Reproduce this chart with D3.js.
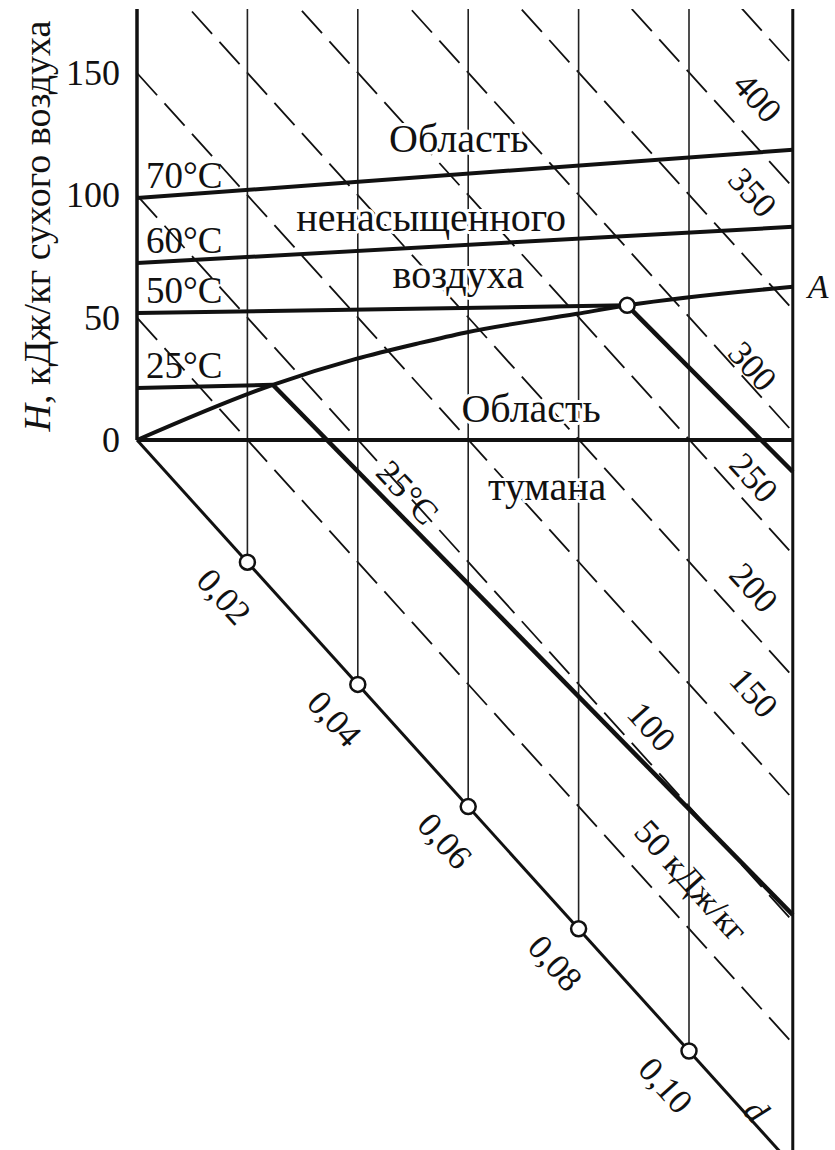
<!DOCTYPE html>
<html>
<head>
<meta charset="utf-8">
<script src="https://cdn.jsdelivr.net/npm/d3@7"></script>
<style>
  body { margin: 0; background: #fff; }
  text { font-family: "Liberation Serif", "Times New Roman", serif; fill: #111; }
  .halo { paint-order: stroke; stroke: #fff; stroke-width: 6px; stroke-linejoin: round; }
</style>
</head>
<body>
<svg id="chart" width="835" height="1150"></svg>
<script>
// --- data (d in kg/kg, H in kJ/kg) ---
const dTicks = [0.02, 0.04, 0.06, 0.08, 0.10];
const dTickLabels = ["0,02", "0,04", "0,06", "0,08", "0,10"];
const hTicks = [0, 50, 100, 150];

const dMax = 0.1188;                       // right border of the field
const enthalpyLines = [50, 100, 150, 200, 250, 300, 350, 400, 450];
const enthalpyLabels = ["50 кДж/кг", "100", "150", "200", "250", "300", "350", "400"];
const enthalpyLabelD = [0.1005, 0.0933, 0.1118, 0.1118, 0.1118, 0.1116, 0.1116, 0.1125];
const enthalpyLabelH = [71, 116, 176, 219, 264, 309, 380, 421];

// saturation curve (phi = 1)
const satD = [0, 0.0246, 0.0395, 0.0513, 0.0594, 0.0797, 0.0888, 0.1188];
const satH = [0, 84, 131.7, 167.8, 192.2, 250.6, 276.8, 359.3];

// isotherms in the unsaturated region
const isoNames = ["70°C", "60°C", "50°C", "25°C", ""];
const isoStartH = [98.9, 72.3, 51.9, 21.3, 0];
const isoEndD = [0.1188, 0.1188, 0.0888, 0.0246, 0.1188];
const isoEndH = [415.3, 383.8, 276.8, 84, 296.7];

// isotherms in the fog region
const fogStartD = [0.0246, 0.0888];
const fogStartH = [84, 276.8];
const fogEndH = [102.6, 283.7];

// region captions
const regionText = ["Область", "ненасыщенного", "воздуха", "Область", "тумана"];
const regionD = [0.0583, 0.0533, 0.0582, 0.0714, 0.0743];
const regionH = [263.3, 218.4, 207.4, 185.6, 160.9];

const svg = d3.select("#chart"),
      fieldLeft = 137, fieldRight = 793, fieldTop = 9, fieldBottom = 1150;

// oblique H-d frame: d runs down-right, H runs straight up
const x = d3.scaleLinear().domain([0, 0.1]).range([fieldLeft, fieldLeft + 552]);
const drop = d3.scaleLinear().domain([0, 0.1]).range([0, 611]);
const y = d3.scaleLinear().domain([0, 150]).range([440, 73]);
const P = (d, h) => [x(d), y(h) + drop(d)];
const angle = Math.atan2(drop(0.1) - drop(0), x(0.1) - x(0)) * 180 / Math.PI;
const line = d3.line();

svg.append("defs").append("clipPath").attr("id", "field")
  .append("rect")
  .attr("x", fieldLeft).attr("y", fieldTop)
  .attr("width", fieldRight - fieldLeft).attr("height", fieldBottom - fieldTop);

// dashed isenthalps
svg.append("g").attr("clip-path", "url(#field)")
  .selectAll("path")
  .data(enthalpyLines)
  .join("path")
  .attr("d", h => line([P(0, h), P(dMax + 0.01, h)]))
  .attr("fill", "none")
  .attr("stroke", "#111")
  .attr("stroke-width", 1.8)
  .attr("stroke-dasharray", "30,11");

// vertical lines d = const
svg.append("g")
  .selectAll("line")
  .data(dTicks)
  .join("line")
  .attr("x1", d => x(d)).attr("x2", d => x(d))
  .attr("y1", fieldTop).attr("y2", d => P(d, 0)[1])
  .attr("stroke", "#222")
  .attr("stroke-width", 1.6);

// frame: H axis, right border, d axis
svg.append("line")
  .attr("x1", fieldLeft).attr("x2", fieldLeft).attr("y1", fieldTop).attr("y2", y(0))
  .attr("stroke", "#111").attr("stroke-width", 3.5);
svg.append("line")
  .attr("x1", x(dMax)).attr("x2", x(dMax)).attr("y1", fieldTop).attr("y2", fieldBottom)
  .attr("stroke", "#111").attr("stroke-width", 3);
svg.append("path")
  .attr("d", line([P(0, 0), P(0.12, 0)]))
  .attr("stroke", "#111").attr("stroke-width", 3).attr("fill", "none");

// isotherms (unsaturated)
svg.append("g")
  .selectAll("path")
  .data(isoStartH)
  .join("path")
  .attr("d", (h, i) => line([P(0, h), P(isoEndD[i], isoEndH[i])]))
  .attr("stroke", "#111").attr("stroke-width", 4).attr("fill", "none");

// saturation curve
svg.append("path")
  .attr("d", d3.line().curve(d3.curveMonotoneX)(satD.map((d, i) => P(d, satH[i]))))
  .attr("stroke", "#111").attr("stroke-width", 4).attr("fill", "none");

// fog isotherms
svg.append("g")
  .selectAll("path")
  .data(fogStartD)
  .join("path")
  .attr("d", (d, i) => line([P(d, fogStartH[i]), P(dMax, fogEndH[i])]))
  .attr("stroke", "#111").attr("stroke-width", 4.5).attr("fill", "none");

// marker circles
svg.append("g")
  .selectAll("circle")
  .data(dTicks.map(d => P(d, 0)).concat([P(satD[6], satH[6])]))
  .join("circle")
  .attr("cx", p => p[0]).attr("cy", p => p[1])
  .attr("r", 7.5)
  .attr("fill", "#fff").attr("stroke", "#111").attr("stroke-width", 2.5);

// H axis ticks
const yAxis = svg.append("g")
  .attr("transform", `translate(${fieldLeft},0)`)
  .call(d3.axisLeft(y).tickValues(hTicks).tickSize(0).tickPadding(17));
yAxis.select(".domain").remove();
yAxis.selectAll("text").attr("font-size", 36).attr("fill", "#111");

// H axis title
const yTitle = svg.append("text")
  .attr("transform", `translate(50,226) rotate(-90)`)
  .attr("text-anchor", "middle")
  .attr("font-size", 38);
yTitle.append("tspan").attr("font-style", "italic").text("H");
yTitle.append("tspan").text(", кДж/кг сухого воздуха");

// d axis labels
svg.append("g")
  .selectAll("text")
  .data(dTicks)
  .join("text")
  .attr("transform", (d, i) => {
    const p = P(d, 0);
    return `translate(${p[0] - 23},${p[1] + 34}) rotate(${angle})`;
  })
  .attr("text-anchor", "middle")
  .attr("dy", "0.35em")
  .attr("font-size", 35)
  .text((d, i) => dTickLabels[i]);

const dEnd = P(0.111, 0);
svg.append("text")
  .attr("transform", `translate(${dEnd[0] + 7},${dEnd[1] - 8}) rotate(${angle})`)
  .attr("text-anchor", "middle")
  .attr("dy", "0.35em")
  .attr("font-size", 35)
  .attr("font-style", "italic")
  .text("d");

// isenthalp labels
svg.append("g")
  .selectAll("text")
  .data(enthalpyLabels)
  .join("text")
  .attr("transform", (t, i) => {
    const p = P(enthalpyLabelD[i], enthalpyLabelH[i]);
    return `translate(${p[0]},${p[1]}) rotate(${angle})`;
  })
  .attr("text-anchor", "middle")
  .attr("dy", "0.35em")
  .attr("font-size", 35)
  .text(t => t);

// isotherm labels
svg.append("g")
  .selectAll("text")
  .data(isoNames.filter(n => n))
  .join("text")
  .attr("x", fieldLeft + 9)
  .attr("y", (n, i) => y(isoStartH[i]) - 10)
  .attr("font-size", 37)
  .text(n => n);

const fogLabel = P(0.0491, 101.3);
svg.append("text")
  .attr("transform", `translate(${fogLabel[0]},${fogLabel[1]}) rotate(${angle - 1})`)
  .attr("text-anchor", "middle")
  .attr("dy", "0.35em")
  .attr("font-size", 35)
  .text("25°C");

// point A
const pA = P(satD[7], satH[7]);
svg.append("text")
  .attr("x", pA[0] + 15).attr("y", pA[1] + 11)
  .attr("font-size", 34)
  .attr("font-style", "italic")
  .text("A");

// region captions
svg.append("g")
  .selectAll("text")
  .data(regionText)
  .join("text")
  .attr("class", "halo")
  .attr("x", (t, i) => P(regionD[i], regionH[i])[0])
  .attr("y", (t, i) => P(regionD[i], regionH[i])[1])
  .attr("text-anchor", "middle")
  .attr("font-size", 40)
  .text(t => t);
</script>
</body>
</html>
